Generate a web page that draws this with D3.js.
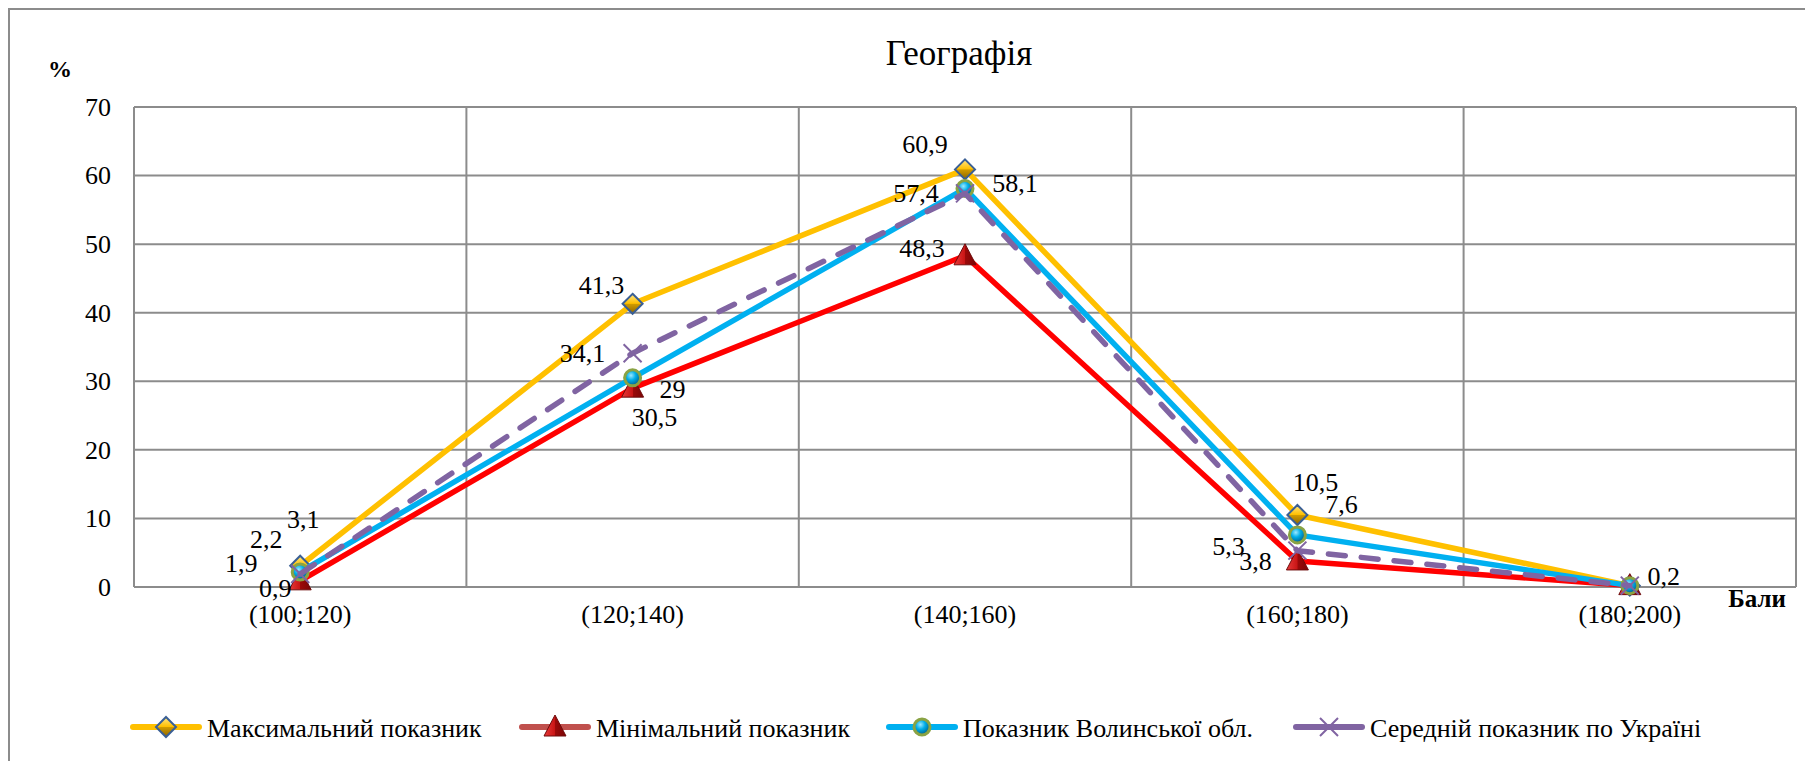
<!DOCTYPE html>
<html>
<head>
<meta charset="utf-8">
<script src="https://cdn.jsdelivr.net/npm/d3@7"></script>
<style>
  html, body { margin: 0; padding: 0; background: #fff; }
  svg { display: block; }
  svg text { fill: #000; }
</style>
</head>
<body>
<svg id="chart" width="1805" height="761"></svg>
<script>
// Score bands (x axis) and shares of participants, %
const categories = ["(100;120)", "(120;140)", "(140;160)", "(160;180)", "(180;200)"];
const maxValues = [3.1, 41.3, 60.9, 10.5, 0.2];
const minValues = [0.9, 29, 48.3, 3.8, 0.2];
const volynValues = [2.2, 30.5, 58.1, 7.6, 0.2];
const ukraineValues = [1.9, 34.1, 57.4, 5.3, 0.2];
const yTicks = [0, 10, 20, 30, 40, 50, 60, 70];
const seriesNames = ["Максимальний показник", "Мінімальний показник", "Показник Волинської обл.", "Середній показник по Україні"];
const titleText = "Географія";
const yUnit = "%";
const xUnit = "Бали";

// Where each value label sits relative to its marker (null = label not shown)
const labelOffsets = [
  [[3, -38], [-31, -10], [-40, -16], [18, -24], null],
  [[-25, 16], [40, 10], [-43, 1], [-42, 9], null],
  [[-34, -24], [22, 48], [50, 3], [44, -22], [34, -1]],
  [[-59, -2], [-50, 9], [-49, 9], [-69, 4], null]
];
// Left edge of each legend entry
const legendStarts = [130, 519, 886, 1293];

const svg = d3.select("#chart");
const plot = { left: 134, right: 1796, top: 107, bottom: 587 };
const gridColor = "#8c8c8c";
const fontSize = 26;
const serif = "'Liberation Serif', 'Times New Roman', Tinos, 'DejaVu Serif', serif";

const x = d3.scaleBand().domain(categories).range([plot.left, plot.right]).padding(0);
const cx = c => x(c) + x.bandwidth() / 2;
const y = d3.scaleLinear().domain([0, 70]).range([plot.bottom, plot.top]);

// gradients for the bevelled markers
const defs = svg.append("defs");
const dg = defs.append("linearGradient").attr("id", "gDiamond").attr("x1", 0).attr("y1", 0).attr("x2", 0).attr("y2", 1);
dg.append("stop").attr("offset", "0%").attr("stop-color", "#ffe68a");
dg.append("stop").attr("offset", "48%").attr("stop-color", "#ffc000");
dg.append("stop").attr("offset", "52%").attr("stop-color", "#d09a00");
dg.append("stop").attr("offset", "100%").attr("stop-color", "#8a6400");
const cg = defs.append("radialGradient").attr("id", "gCircle").attr("cx", "40%").attr("cy", "35%").attr("r", "65%");
cg.append("stop").attr("offset", "0%").attr("stop-color", "#9be8ff");
cg.append("stop").attr("offset", "45%").attr("stop-color", "#00aee8");
cg.append("stop").attr("offset", "100%").attr("stop-color", "#005f8c");
const tg = defs.append("linearGradient").attr("id", "gTriangle").attr("x1", 0).attr("y1", 0).attr("x2", 1).attr("y2", 0);
tg.append("stop").attr("offset", "0%").attr("stop-color", "#e83a3a");
tg.append("stop").attr("offset", "50%").attr("stop-color", "#c81414");
tg.append("stop").attr("offset", "51%").attr("stop-color", "#9c0a0a");
tg.append("stop").attr("offset", "100%").attr("stop-color", "#7a0505");

// outer chart frame
svg.append("path")
  .attr("d", `M9,${761 + 5} V9 H${1805 + 5}`)
  .attr("fill", "none").attr("stroke", gridColor).attr("stroke-width", 2);

// title and unit captions
svg.append("text").attr("x", 959).attr("y", 65).attr("text-anchor", "middle")
  .style("font-family", serif).attr("font-size", 35).text(titleText);
svg.append("text").attr("x", 60).attr("y", 77).attr("text-anchor", "middle")
  .style("font-family", serif).attr("font-size", 24).attr("font-weight", "bold").text(yUnit);
svg.append("text").attr("x", 1786).attr("y", 607).attr("text-anchor", "end")
  .style("font-family", serif).attr("font-size", 25).attr("font-weight", "bold").text(xUnit);

// gridlines
const grid = svg.append("g");
grid.selectAll("line.h").data(yTicks).join("line")
  .attr("x1", plot.left).attr("x2", plot.right)
  .attr("y1", d => y(d)).attr("y2", d => y(d))
  .attr("stroke", gridColor).attr("stroke-width", 2);
const edges = categories.map(c => x(c)).concat([plot.right]);
grid.selectAll("line.v").data(edges).join("line")
  .attr("x1", d => d).attr("x2", d => d)
  .attr("y1", plot.top).attr("y2", plot.bottom)
  .attr("stroke", gridColor).attr("stroke-width", 2);

// axes
const yAxis = svg.append("g").attr("transform", `translate(${plot.left},0)`)
  .call(d3.axisLeft(y).tickValues(yTicks).tickSize(0).tickPadding(23));
yAxis.attr("font-family", null);
yAxis.select(".domain").remove();
yAxis.selectAll("text").attr("font-size", fontSize).style("font-family", serif);

const xAxis = svg.append("g").attr("transform", `translate(0,${plot.bottom})`)
  .call(d3.axisBottom(x).tickSize(0).tickPadding(17.5));
xAxis.attr("font-family", null);
xAxis.select(".domain").remove();
xAxis.selectAll("text").attr("font-size", fontSize).style("font-family", serif);

// marker drawers
function drawDiamond(g, px, py) {
  g.append("path").attr("d", `M${px},${py - 10} L${px + 10},${py} L${px},${py + 10} L${px - 10},${py} Z`)
    .attr("fill", "url(#gDiamond)").attr("stroke", "#3a5f95").attr("stroke-width", 2);
}
function drawTriangle(g, px, py) {
  g.append("path").attr("d", `M${px},${py - 12} L${px + 11},${py + 9} L${px - 11},${py + 9} Z`)
    .attr("fill", "url(#gTriangle)").attr("stroke", "#6e0c0c").attr("stroke-width", 1);
}
function drawCircle(g, px, py) {
  g.append("circle").attr("cx", px).attr("cy", py).attr("r", 8)
    .attr("fill", "url(#gCircle)").attr("stroke", "#8aa344").attr("stroke-width", 3);
}
function drawCross(g, px, py) {
  g.append("path").attr("d", `M${px - 9},${py - 9} L${px + 9},${py + 9} M${px - 9},${py + 9} L${px + 9},${py - 9}`)
    .attr("stroke", "#8064a2").attr("stroke-width", 2).attr("fill", "none");
}

const series = [
  { name: seriesNames[0], values: maxValues, color: "#ffc000", legendColor: "#ffc000", dash: null, marker: drawDiamond },
  { name: seriesNames[1], values: minValues, color: "#ff0000", legendColor: "#c0504d", dash: null, marker: drawTriangle },
  { name: seriesNames[2], values: volynValues, color: "#00b0f0", legendColor: "#00b0f0", dash: null, marker: drawCircle },
  { name: seriesNames[3], values: ukraineValues, color: "#8064a2", legendColor: "#8064a2", dash: "17,16", marker: drawCross }
];

const line = d3.line().x(d => cx(d.c)).y(d => y(d.v));
const marks = svg.append("g");
series.forEach(s => {
  const pts = categories.map((c, i) => ({ c, v: s.values[i] }));
  const g = marks.append("g");
  g.append("path").datum(pts).attr("d", line)
    .attr("fill", "none").attr("stroke", s.color).attr("stroke-width", 5.5)
    .attr("stroke-linejoin", "round").attr("stroke-linecap", "round")
    .attr("stroke-dasharray", s.dash);
  pts.forEach(p => s.marker(g, cx(p.c), y(p.v)));
});

// value labels
const labels = svg.append("g");
series.forEach((s, si) => {
  s.values.forEach((v, i) => {
    const off = labelOffsets[si][i];
    if (!off) return;
    labels.append("text")
      .attr("x", cx(categories[i]) + off[0])
      .attr("y", y(v) + off[1])
      .attr("text-anchor", "middle")
      .style("font-family", serif)
      .attr("font-size", fontSize)
      .text(String(v).replace(".", ","));
  });
});

// legend
const legend = svg.append("g");
const ly = 727;
series.forEach((s, i) => {
  const lx = legendStarts[i];
  const item = legend.append("g");
  item.append("line").attr("x1", lx + 3).attr("x2", lx + 69).attr("y1", ly).attr("y2", ly)
    .attr("stroke", s.legendColor).attr("stroke-width", 6).attr("stroke-linecap", "round");
  s.marker(item, lx + 36, ly);
  item.append("text").attr("x", lx + 77).attr("y", ly + 10)
    .style("font-family", serif).attr("font-size", fontSize).text(s.name);
});
</script>
</body>
</html>
